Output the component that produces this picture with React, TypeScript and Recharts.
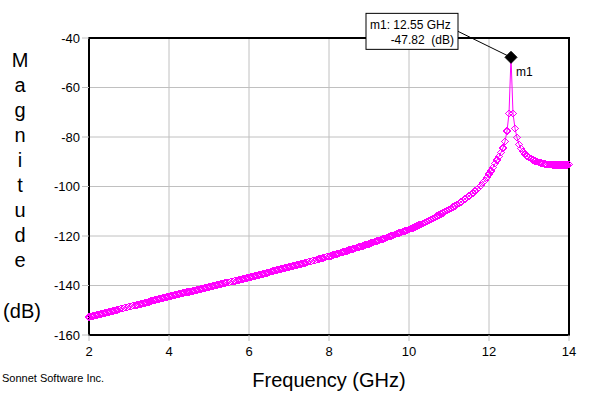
import React from 'react';
import {
  ComposedChart, Line, XAxis, YAxis, CartesianGrid, ReferenceArea, ReferenceDot
} from 'recharts';

// sweep frequencies (GHz)
const FREQ_GHZ = [
  2.0,
  2.05, 2.1, 2.15, 2.2, 2.25, 2.3, 2.35, 2.4, 2.45, 2.5, 2.55, 2.6, 2.65, 2.7, 2.75, 2.8, 2.85, 2.9, 2.95, 3.0,
  3.05, 3.1, 3.15, 3.2, 3.25, 3.3, 3.35, 3.4, 3.45, 3.5, 3.55, 3.6, 3.65, 3.7, 3.75, 3.8, 3.85, 3.9, 3.95, 4.0,
  4.05, 4.1, 4.15, 4.2, 4.25, 4.3, 4.35, 4.4, 4.45, 4.5, 4.55, 4.6, 4.65, 4.7, 4.75, 4.8, 4.85, 4.9, 4.95, 5.0,
  5.05, 5.1, 5.15, 5.2, 5.25, 5.3, 5.35, 5.4, 5.45, 5.5, 5.55, 5.6, 5.65, 5.7, 5.75, 5.8, 5.85, 5.9, 5.95, 6.0,
  6.05, 6.1, 6.15, 6.2, 6.25, 6.3, 6.35, 6.4, 6.45, 6.5, 6.55, 6.6, 6.65, 6.7, 6.75, 6.8, 6.85, 6.9, 6.95, 7.0,
  7.05, 7.1, 7.15, 7.2, 7.25, 7.3, 7.35, 7.4, 7.45, 7.5, 7.55, 7.6, 7.65, 7.7, 7.75, 7.8, 7.85, 7.9, 7.95, 8.0,
  8.05, 8.1, 8.15, 8.2, 8.25, 8.3, 8.35, 8.4, 8.45, 8.5, 8.55, 8.6, 8.65, 8.7, 8.75, 8.8, 8.85, 8.9, 8.95, 9.0,
  9.05, 9.1, 9.15, 9.2, 9.25, 9.3, 9.35, 9.4, 9.45, 9.5, 9.55, 9.6, 9.65, 9.7, 9.75, 9.8, 9.85, 9.9, 9.95, 10.0,
  10.05, 10.1, 10.15, 10.2, 10.25, 10.3, 10.35, 10.4, 10.45, 10.5, 10.55, 10.6, 10.65, 10.7, 10.75, 10.8, 10.85, 10.9, 10.95, 11.0,
  11.05, 11.1, 11.15, 11.2, 11.25, 11.3, 11.35, 11.4, 11.45, 11.5, 11.55, 11.6, 11.65, 11.7, 11.75, 11.8, 11.85, 11.9, 11.95, 12.0,
  12.05, 12.1, 12.15, 12.2, 12.25, 12.3, 12.35, 12.4, 12.45, 12.5, 12.55, 12.6, 12.65, 12.7, 12.75, 12.8, 12.85, 12.9, 12.95, 13.0,
  13.05, 13.1, 13.15, 13.2, 13.25, 13.3, 13.35, 13.4, 13.45, 13.5, 13.55, 13.6, 13.65, 13.7, 13.75, 13.8, 13.85, 13.9, 13.95, 14.0,
];

// magnitude (dB)
const MAG_DB = [
  -152.8,
  -152.6, -152.4, -152.2, -152.0, -151.8, -151.5, -151.3, -151.1, -150.9, -150.7, -150.5, -150.3, -150.1, -149.9, -149.7, -149.4, -149.2, -149.0, -148.8, -148.6,
  -148.4, -148.2, -148.0, -147.8, -147.6, -147.4, -147.2, -147.0, -146.8, -146.6, -146.3, -146.1, -145.9, -145.7, -145.5, -145.3, -145.1, -144.9, -144.7, -144.5,
  -144.3, -144.1, -143.9, -143.7, -143.5, -143.3, -143.1, -142.9, -142.7, -142.6, -142.4, -142.2, -142.0, -141.8, -141.6, -141.4, -141.2, -141.0, -140.8, -140.6,
  -140.4, -140.2, -140.0, -139.8, -139.6, -139.4, -139.2, -139.0, -138.8, -138.7, -138.5, -138.3, -138.1, -137.9, -137.7, -137.5, -137.3, -137.1, -136.9, -136.7,
  -136.5, -136.3, -136.1, -135.9, -135.7, -135.5, -135.3, -135.1, -134.9, -134.7, -134.4, -134.2, -134.0, -133.8, -133.6, -133.4, -133.2, -133.0, -132.8, -132.6,
  -132.4, -132.2, -131.9, -131.7, -131.5, -131.3, -131.1, -130.9, -130.6, -130.4, -130.2, -130.0, -129.8, -129.5, -129.3, -129.1, -128.9, -128.6, -128.4, -128.2,
  -128.0, -127.7, -127.5, -127.2, -127.0, -126.7, -126.5, -126.2, -126.0, -125.7, -125.5, -125.2, -125.0, -124.7, -124.5, -124.2, -124.0, -123.7, -123.5, -123.2,
  -122.9, -122.6, -122.3, -122.0, -121.8, -121.5, -121.2, -120.9, -120.6, -120.3, -120.0, -119.7, -119.4, -119.1, -118.8, -118.6, -118.3, -118.0, -117.7, -117.4,
  -117.0, -116.7, -116.3, -116.0, -115.6, -115.3, -114.9, -114.5, -114.2, -113.8, -113.4, -112.9, -112.5, -112.0, -111.6, -111.1, -110.7, -110.2, -109.8, -109.3,
  -108.8, -108.3, -107.8, -107.3, -106.8, -106.2, -105.6, -105.0, -104.4, -103.8, -103.2, -102.6, -101.9, -101.1, -100.3, -99.5, -98.5, -97.5, -96.3, -95.0,
  -93.7, -92.3, -90.8, -89.3, -87.9, -86.3, -84.4, -81.8, -77.6, -70.5, -47.82, -70.5, -76.5, -80.3, -83.0, -84.7, -85.9, -86.9, -87.7, -88.3,
  -88.8, -89.3, -89.7, -90.0, -90.3, -90.5, -90.7, -90.9, -91.0, -91.1, -91.2, -91.3, -91.3, -91.3, -91.3, -91.3, -91.3, -91.3, -91.3, -91.2,
];

const X_TICKS = [2, 4, 6, 8, 10, 12, 14];
const Y_TICKS = [-160, -140, -120, -100, -80, -60, -40];

const MARKER_NAME = 'm1';
const MARKER_FREQ = 12.55;
const MARKER_MAG = -47.82;

const Y_TITLE = ['M', 'a', 'g', 'n', 'i', 't', 'u', 'd', 'e'];

const data = FREQ_GHZ.map((f, i) => ({ f, mag: MAG_DB[i] }));

const FONT = '"Liberation Sans", Arial, sans-serif';
const GRID = '#c0c0c0';
const TRACE = '#ff00ff';

const renderDiamond = (p: any) => {
  const { cx, cy, index } = p;
  const s = 3.5;
  return (
    <path
      key={`d-${index}`}
      d={`M${cx},${cy - s}L${cx + s},${cy}L${cx},${cy + s}L${cx - s},${cy}Z`}
      fill="none"
      stroke={TRACE}
      strokeWidth={1}
      shapeRendering="crispEdges"
    />
  );
};

const MarkerShape = (p: any) => {
  const { cx, cy } = p;
  const s = 6;
  // annotation box sits up and to the left of the marker
  const bx = cx - 145, by = cy - 44, bw = 92, bh = 36;
  return (
    <g>
      <line x1={bx + bw} y1={by + 18} x2={cx} y2={cy} stroke="#000" strokeWidth={1} />
      <rect x={bx} y={by} width={bw} height={bh} fill="#fff" stroke="#000" strokeWidth={1} />
      <text x={bx + 4} y={by + 16} fontSize={12} fill="#000">
        {`${MARKER_NAME}: ${MARKER_FREQ} GHz`}
      </text>
      <text x={bx + bw - 4} y={by + 31} fontSize={12} fill="#000" textAnchor="end" style={{ whiteSpace: 'pre' }}>
        {`${MARKER_MAG}  (dB)`}
      </text>
      <path
        d={`M${cx},${cy - s}L${cx + s},${cy}L${cx},${cy + s}L${cx - s},${cy}Z`}
        fill="#000"
        stroke="#000"
      />
      <text x={cx + 5} y={cy + 19} fontSize={12} fill="#000">{MARKER_NAME}</text>
    </g>
  );
};

export default function App() {
  return (
    <div style={{ position: 'absolute', left: 0, top: 0, width: 600, height: 393, background: '#fff', fontFamily: FONT }}>
      <ComposedChart
        width={600}
        height={393}
        data={data}
        margin={{ top: 38, right: 31, left: 0, bottom: 0 }}
      >
        <CartesianGrid stroke={GRID} strokeWidth={1} />
        <XAxis
          type="number"
          dataKey="f"
          domain={[2, 14]}
          ticks={X_TICKS}
          interval={0}
          height={58}
          axisLine={false}
          tickLine={{ stroke: GRID }}
          tickSize={6}
          tickMargin={6}
          tick={{ fontSize: 13, fill: '#000' }}
          label={{ value: 'Frequency (GHz)', position: 'insideBottom', offset: 6, fontSize: 20, fill: '#000' }}
        />
        <YAxis
          type="number"
          domain={[-160, -40]}
          ticks={Y_TICKS}
          interval={0}
          width={89}
          axisLine={false}
          tickLine={{ stroke: GRID }}
          tickSize={7}
          tickMargin={2}
          tick={{ fontSize: 13, fill: '#000' }}
        />
        <ReferenceArea x1={2} x2={14} y1={-160} y2={-40} fill="none" stroke="#000" strokeWidth={2} ifOverflow="visible" />
        <Line
          type="linear"
          dataKey="mag"
          stroke={TRACE}
          strokeWidth={1}
          dot={renderDiamond}
          activeDot={false}
          isAnimationActive={false}
        />
        <ReferenceDot x={MARKER_FREQ} y={MARKER_MAG} ifOverflow="visible" shape={MarkerShape} />
      </ComposedChart>
      {Y_TITLE.map((ch, i) => (
        <div
          key={ch + i}
          style={{ position: 'absolute', left: 0, width: 40, top: 48 + i * 25, textAlign: 'center', fontSize: 20, lineHeight: '24px' }}
        >
          {ch}
        </div>
      ))}
      <div style={{ position: 'absolute', left: 2, width: 40, top: 299, textAlign: 'center', fontSize: 20, lineHeight: '24px' }}>
        (dB)
      </div>
      <div style={{ position: 'absolute', left: 2, top: 371, fontSize: 11, lineHeight: '14px' }}>
        Sonnet Software Inc.
      </div>
    </div>
  );
}
